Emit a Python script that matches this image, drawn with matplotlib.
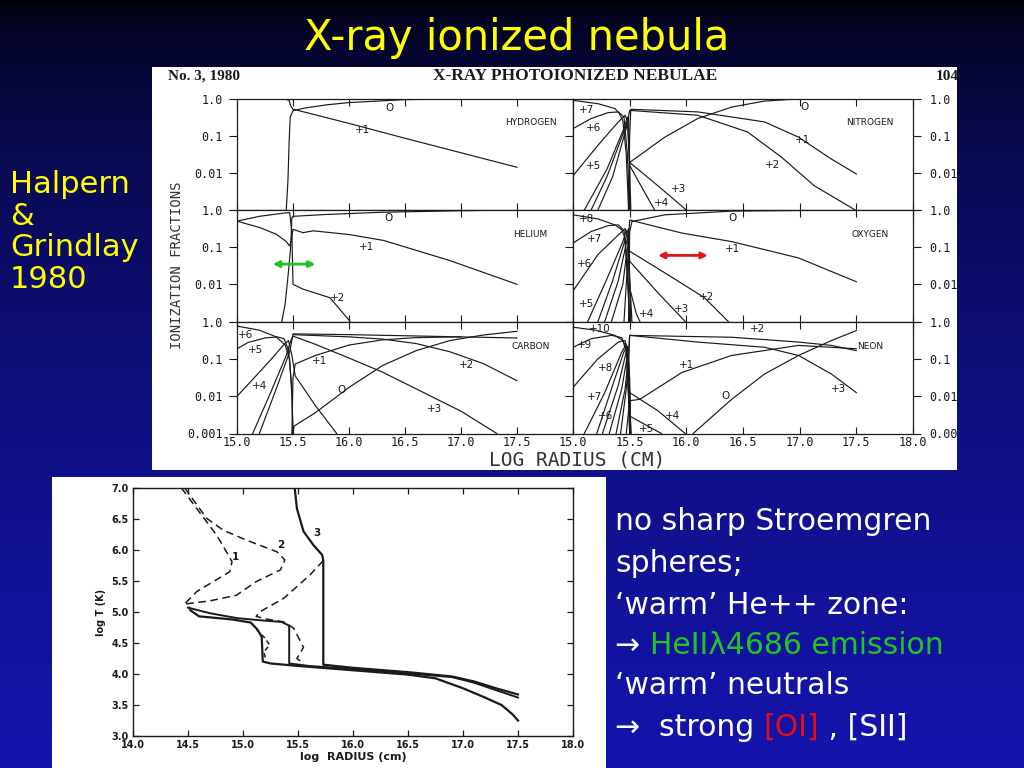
import numpy as np
import matplotlib.pyplot as plt
from matplotlib.patches import Rectangle

# ---- data: ionization fractions (log10) vs log radius ----
HYDROGEN = {
    '0':  ([15.44, 15.455, 15.465, 15.475, 15.5, 15.6, 15.8, 16.0, 16.5, 17.0, 17.5],
           [-3.0, -2.2, -1.2, -0.5, -0.33, -0.26, -0.17, -0.11, -0.03, -0.01, 0.0]),
    '+1': ([15.0, 15.42, 15.465, 15.48, 15.5, 15.53, 16.0, 16.5, 17.0, 17.5],
           [0.0, -0.01, -0.05, -0.2, -0.29, -0.31, -0.67, -1.07, -1.46, -1.85]),
}
HELIUM = {
    '0':  ([15.40, 15.43, 15.46, 15.48, 15.49, 15.5, 15.8, 16.3, 17.0, 17.5],
           [-3.0, -2.53, -1.64, -0.97, -0.2, -0.17, -0.12, -0.06, -0.02, 0.0]),
    '+1': ([15.0, 15.2, 15.35, 15.44, 15.47, 15.485, 15.5, 15.59, 15.68, 16.0, 16.31, 16.9, 17.5],
           [-0.3, -0.47, -0.65, -0.85, -0.97, -0.8, -0.52, -0.61, -0.56, -0.66, -0.82, -1.36, -2.0]),
    '+2': ([15.0, 15.2, 15.4, 15.47, 15.49, 15.5, 15.59, 15.83, 16.01],
           [-0.3, -0.17, -0.09, -0.07, -0.6, -2.0, -2.13, -2.36, -3.0]),
}
CARBON = {
    '+6': ([15.0, 15.2, 15.35, 15.43, 15.47, 15.49, 15.5],
           [-0.11, -0.22, -0.4, -0.62, -1.0, -2.0, -3.0]),
    '+5': ([15.0, 15.1, 15.25, 15.36, 15.42, 15.46, 15.49, 15.5],
           [-0.72, -0.55, -0.43, -0.4, -0.45, -0.75, -1.8, -3.0]),
    '+4': ([15.0, 15.2, 15.35, 15.42, 15.46, 15.49, 15.52, 15.7, 15.89],
           [-2.0, -1.35, -0.85, -0.6, -0.5, -0.9, -1.45, -2.25, -3.0]),
    '+3': ([15.14, 15.3, 15.44, 15.48, 15.5, 15.7, 16.0, 16.3, 16.6, 17.0, 17.32],
           [-3.0, -1.9, -0.9, -0.5, -0.38, -0.6, -0.97, -1.35, -1.8, -2.4, -3.0]),
    '+2': ([15.2, 15.35, 15.47, 15.5, 16.0, 16.3, 16.6, 16.9, 17.2, 17.5],
           [-3.0, -1.8, -0.8, -0.34, -0.4, -0.46, -0.58, -0.8, -1.12, -1.58]),
    '+2b': ([15.5, 16.0, 16.5, 17.0, 17.5],
            [-0.32, -0.34, -0.37, -0.40, -0.43]),
    '+1': ([15.49, 15.5, 15.52, 15.7, 16.0, 16.3, 16.6, 17.0],
           [-3.0, -1.5, -1.13, -0.9, -0.62, -0.48, -0.42, -0.40]),
    '0':  ([15.5, 15.51, 15.7, 16.0, 16.3, 16.6, 16.9, 17.2, 17.5],
           [-3.0, -2.8, -2.44, -1.76, -1.17, -0.77, -0.5, -0.35, -0.25]),
}
NITROGEN = {
    '+7': ([15.0, 15.22, 15.37, 15.41, 15.44, 15.47, 15.49],
           [-0.05, -0.14, -0.27, -0.41, -0.6, -1.5, -3.0]),
    '+6': ([15.0, 15.16, 15.31, 15.40, 15.45, 15.48, 15.5],
           [-0.81, -0.54, -0.38, -0.36, -0.5, -1.5, -3.0]),
    '+5': ([15.0, 15.22, 15.40, 15.46, 15.48, 15.5, 15.51],
           [-2.08, -1.26, -0.63, -0.45, -0.6, -1.8, -3.0]),
    '+4': ([15.10, 15.3, 15.45, 15.48, 15.5, 15.6, 15.72],
           [-3.0, -1.9, -0.8, -0.5, -1.8, -2.35, -3.0]),
    '+3': ([15.16, 15.3, 15.46, 15.49, 15.5, 15.75, 16.0],
           [-3.0, -2.1, -0.8, -0.5, -1.72, -2.35, -3.0]),
    '+2': ([15.22, 15.35, 15.47, 15.5, 16.1, 16.54, 16.84, 17.13, 17.49],
           [-3.0, -2.1, -0.8, -0.32, -0.45, -0.9, -1.58, -2.35, -3.0]),
    '+1': ([15.49, 15.5, 15.51, 16.1, 16.69, 16.99, 17.28, 17.5],
           [-3.0, -1.0, -0.29, -0.36, -0.63, -1.04, -1.63, -2.03]),
    '0':  ([15.495, 15.5, 15.81, 16.1, 16.4, 16.69, 16.99, 17.5],
           [-3.0, -1.72, -1.04, -0.54, -0.23, -0.07, -0.01, 0.0]),
}
OXYGEN = {
    '+8': ([15.0, 15.22, 15.37, 15.43, 15.46, 15.48, 15.5],
           [-0.13, -0.24, -0.4, -0.53, -0.76, -1.8, -3.0]),
    '+7': ([15.0, 15.16, 15.31, 15.40, 15.45, 15.48, 15.5],
           [-0.89, -0.58, -0.42, -0.40, -0.55, -1.6, -3.0]),
    '+6': ([15.0, 15.22, 15.40, 15.46, 15.48, 15.5, 15.51],
           [-2.18, -1.2, -0.67, -0.5, -0.7, -2.0, -3.0]),
    '+5': ([15.13, 15.3, 15.44, 15.47, 15.49, 15.5, 15.52],
           [-3.0, -1.85, -0.85, -0.55, -0.6, -1.8, -3.0]),
    '+4': ([15.22, 15.35, 15.46, 15.49, 15.5, 15.56, 15.59],
           [-3.0, -1.9, -0.8, -0.5, -2.1, -2.8, -3.0]),
    '+3': ([15.28, 15.4, 15.47, 15.49, 15.5, 15.75, 15.99],
           [-3.0, -1.9, -0.9, -0.6, -1.38, -2.23, -3.0]),
    '+2': ([15.34, 15.44, 15.48, 15.5, 15.81, 16.16, 16.37],
           [-3.0, -2.0, -1.0, -1.11, -1.69, -2.36, -3.0]),
    '+1': ([15.45, 15.48, 15.5, 15.96, 16.4, 16.99, 17.5],
           [-3.0, -1.5, -0.27, -0.62, -0.85, -1.29, -1.93]),
    '0':  ([15.49, 15.5, 15.52, 15.81, 16.4, 17.5],
           [-3.0, -0.6, -0.31, -0.13, -0.03, 0.0]),
}
NEON = {
    '+10': ([15.0, 15.2, 15.37, 15.44, 15.47, 15.49, 15.5],
            [-0.14, -0.22, -0.36, -0.5, -0.8, -2.0, -3.0]),
    '+9': ([15.0, 15.16, 15.34, 15.43, 15.47, 15.49, 15.5],
           [-0.68, -0.45, -0.36, -0.42, -0.7, -2.0, -3.0]),
    '+8': ([15.0, 15.22, 15.40, 15.46, 15.48, 15.5, 15.51],
           [-1.76, -0.99, -0.54, -0.5, -0.8, -2.0, -3.0]),
    '+7': ([15.10, 15.28, 15.43, 15.47, 15.49, 15.5, 15.51],
           [-3.0, -1.9, -0.81, -0.6, -0.9, -2.0, -3.0]),
    '+6': ([15.21, 15.35, 15.45, 15.48, 15.5, 15.51],
           [-3.0, -1.7, -0.8, -0.65, -1.5, -3.0]),
    '+5': ([15.26, 15.4, 15.47, 15.49, 15.5, 15.69, 15.78],
           [-3.0, -1.7, -0.8, -0.7, -2.53, -2.85, -3.0]),
    '+4': ([15.32, 15.43, 15.48, 15.5, 15.75, 15.99],
           [-3.0, -1.8, -0.9, -1.9, -2.39, -3.0]),
    '+3': ([15.38, 15.46, 15.49, 15.5, 16.1, 16.69, 16.99, 17.28, 17.5],
           [-3.0, -1.8, -0.9, -0.36, -0.54, -0.68, -0.9, -1.4, -1.9]),
    '+2': ([15.42, 15.47, 15.49, 15.5, 16.4, 16.99, 17.28, 17.5],
           [-3.0, -1.8, -1.0, -0.36, -0.41, -0.54, -0.63, -0.77]),
    '+1': ([15.47, 15.49, 15.5, 15.59, 15.96, 16.4, 16.99, 17.5],
           [-3.0, -2.4, -2.12, -2.08, -1.36, -0.9, -0.63, -0.72]),
    '0':  ([16.06, 16.4, 16.69, 16.99, 17.28, 17.5],
           [-3.0, -2.08, -1.4, -0.9, -0.5, -0.23]),
}

# curve labels: text, log R, log fraction
HYDROGEN_LABELS = [('O', 16.36, -0.26), ('+1', 16.12, -0.85)]
HELIUM_LABELS = [('O', 16.35, -0.22), ('+1', 16.16, -0.99), ('+2', 15.9, -2.37)]
CARBON_LABELS = [('+6', 15.08, -0.36), ('+5', 15.17, -0.75), ('+4', 15.2, -1.73),
                 ('+1', 15.74, -1.04), ('O', 15.93, -1.82), ('+2', 17.05, -1.17),
                 ('+3', 16.76, -2.35)]
NITROGEN_LABELS = [('+7', 15.12, -0.32), ('+6', 15.18, -0.79), ('+5', 15.18, -1.81),
                   ('O', 17.04, -0.23), ('+1', 17.03, -1.13), ('+2', 16.76, -1.79),
                   ('+3', 15.93, -2.44), ('+4', 15.78, -2.8)]
OXYGEN_LABELS = [('+8', 15.12, -0.24), ('+7', 15.19, -0.78), ('+6', 15.1, -1.45),
                 ('+5', 15.12, -2.54), ('+4', 15.65, -2.8), ('+3', 15.96, -2.67),
                 ('+2', 16.18, -2.34), ('+1', 16.41, -1.05), ('O', 16.41, -0.22)]
NEON_LABELS = [('+10', 15.24, -0.18), ('+9', 15.1, -0.63), ('+8', 15.29, -1.25),
               ('+7', 15.19, -2.03), ('+6', 15.29, -2.53), ('+5', 15.65, -2.89),
               ('+4', 15.88, -2.53), ('+1', 16.0, -1.17), ('O', 16.35, -1.99),
               ('+2', 16.63, -0.18), ('+3', 17.34, -1.81)]

# temperature profiles: log R, log T
T1_DASH = ([14.44, 14.6, 14.76, 14.85, 14.9, 14.88, 14.73, 14.58, 14.48, 14.52],
           [7.0, 6.62, 6.24, 5.97, 5.81, 5.65, 5.49, 5.33, 5.15, 5.05])
T2_DASH = ([14.47, 14.67, 14.82, 15.03, 15.31, 15.38, 15.34, 15.12, 14.94, 14.70, 14.48],
           [7.0, 6.51, 6.32, 6.16, 5.97, 5.84, 5.68, 5.49, 5.27, 5.18, 5.13])
T3_DASH = ([15.73, 15.61, 15.37, 15.15, 15.12, 15.2, 15.37, 15.46, 15.55, 15.49, 15.55],
           [5.83, 5.6, 5.22, 5.0, 4.93, 4.89, 4.84, 4.74, 4.43, 4.25, 4.17])
T1_ZIG = ([15.12, 15.2, 15.24, 15.19, 15.21],
          [4.72, 4.58, 4.47, 4.35, 4.22])
T1_SOLID = ([14.52, 14.6, 14.9, 15.07, 15.13, 15.17, 15.18, 15.25, 15.5, 16.0, 16.5, 16.75,
             17.0, 17.2, 17.35, 17.45, 17.5],
            [5.03, 4.93, 4.88, 4.83, 4.72, 4.6, 4.2, 4.17, 4.13, 4.06, 3.99, 3.93,
             3.77, 3.62, 3.5, 3.35, 3.25])
T2_SOLID = ([14.5, 14.7, 14.95, 15.2, 15.35, 15.42, 15.42, 15.6, 16.0, 16.5, 16.9, 17.1, 17.3, 17.5],
            [5.07, 4.98, 4.9, 4.86, 4.84, 4.78, 4.17, 4.13, 4.08, 4.01, 3.95, 3.86, 3.74, 3.62])
T3_SOLID = ([15.47, 15.49, 15.55, 15.64, 15.72, 15.73, 15.73, 16.0, 16.5, 16.9, 17.1, 17.3, 17.5],
            [7.0, 6.67, 6.3, 6.08, 5.92, 5.83, 4.15, 4.1, 4.03, 3.96, 3.88, 3.77, 3.67])
T_LABELS = [('1', 14.93, 5.89), ('2', 15.34, 6.08), ('3', 15.67, 6.27)]

W, H = 1024, 768


def fx(px):
    return px / W


def fy(py):
    return 1 - py / H


fig = plt.figure(figsize=(10.24, 7.68), dpi=100)

# slide background: black at the top fading into blue
bg = fig.add_axes([0, 0, 1, 1], zorder=-10)
t = np.linspace(0, 1, 256)[:, None] ** 0.5
top = np.array([0.0, 0.0, 0.02])
bot = np.array([0.08, 0.08, 0.68])
img = (top + (bot - top) * t[..., None]) * np.ones((256, 2, 3))
bg.imshow(img, aspect='auto', extent=[0, 1, 0, 1], origin='upper')
bg.set_xlim(0, 1)
bg.set_ylim(0, 1)
bg.axis('off')

# white "scan" panels
panel_top = Rectangle((fx(152), fy(470)), fx(957) - fx(152), fy(67) - fy(470),
                      transform=fig.transFigure, facecolor='white', edgecolor='none', zorder=-5)
panel_bot = Rectangle((fx(52), fy(768)), fx(606) - fx(52), fy(477) - fy(768),
                      transform=fig.transFigure, facecolor='white', edgecolor='none', zorder=-5)
fig.patches.extend([panel_top, panel_bot])

mono = 'DejaVu Sans Mono'
ink = '#1a1a1a'

fig.text(0.505, fy(38), 'X-ray ionized nebula', ha='center', va='center',
         color='#ffff00', fontsize=30)
fig.text(fx(10), fy(232), 'Halpern\n&\nGrindlay\n1980', ha='left', va='center',
         color='#ffff00', fontsize=22, linespacing=1.12)

fig.text(fx(168), fy(76), 'No. 3, 1980', family='Liberation Serif', weight='bold',
         fontsize=11, color=ink, va='center')
fig.text(fx(575), fy(76), 'X-RAY PHOTOIONIZED NEBULAE', family='Liberation Serif',
         weight='bold', fontsize=12.5, color=ink, va='center', ha='center')
hdr = fig.text(fx(936), fy(76), '104', family='Liberation Serif', weight='bold',
               fontsize=11, color=ink, va='center')
hdr.set_clip_path(panel_top)

panels = [
    (HYDROGEN, HYDROGEN_LABELS, 'HYDROGEN', 0, 0),
    (NITROGEN, NITROGEN_LABELS, 'NITROGEN', 0, 1),
    (HELIUM, HELIUM_LABELS, 'HELIUM', 1, 0),
    (OXYGEN, OXYGEN_LABELS, 'OXYGEN', 1, 1),
    (CARBON, CARBON_LABELS, 'CARBON', 2, 0),
    (NEON, NEON_LABELS, 'NEON', 2, 1),
]
col_px = [(237, 336), (573, 340)]
row_top = [98.5, 210, 322]
row_h = 111.5

for curves, labels, name, r, c in panels:
    left, width = col_px[c]
    ax = fig.add_axes([fx(left), fy(row_top[r] + row_h), width / W, row_h / H])
    ax.set_facecolor('white')
    for key, (xs, ys) in curves.items():
        ax.plot(xs, np.power(10.0, ys), color=ink, lw=0.85)
    for txt, lx, ly in labels:
        ax.text(lx, 10 ** ly, txt, fontsize=7.5, family='DejaVu Sans', color=ink,
                ha='center', va='center')
    ax.text(17.62, 10 ** -0.65, name, fontsize=6.5, family='DejaVu Sans', color=ink,
            ha='center', va='center')
    ax.set_yscale('log')
    ax.set_xlim(15, 18)
    ax.set_ylim(1e-3, 1)
    ax.minorticks_off()
    ax.set_yticks([1e-3, 1e-2, 1e-1, 1])
    bottom_lab = '0.001' if r == 2 else ''
    ax.set_yticklabels([bottom_lab, '0.01', '0.1', '1.0'], family=mono, fontsize=8.5, color=ink)
    ax.set_xticks([15, 15.5, 16, 16.5, 17, 17.5, 18])
    if r == 2:
        if c == 0:
            xl = ['15.0', '15.5', '16.0', '16.5', '17.0', '17.5', '']
        else:
            xl = ['15.0', '15.5', '16.0', '16.5', '17.0', '17.5', '18.0']
        ax.set_xticklabels(xl, family=mono, fontsize=8.5, color=ink)
    else:
        ax.set_xticklabels([])
    ax.tick_params(axis='x', direction='in', top=True, bottom=True, length=5, width=0.8,
                   pad=2, color=ink)
    if c == 0:
        ax.tick_params(axis='y', direction='out', left=True, right=False, length=6,
                       width=0.8, pad=4, color=ink)
    else:
        ax.tick_params(axis='y', direction='out', left=True, right=True, labelleft=False,
                       labelright=True, length=6, width=0.8, pad=6, color=ink)
        for lab in ax.get_yticklabels():
            lab.set_clip_path(panel_top)
    for s in ax.spines.values():
        s.set_linewidth(0.9)
        s.set_color(ink)
    if name == 'HELIUM':
        ax.annotate('', xy=(15.70, 0.035), xytext=(15.32, 0.035),
                    arrowprops=dict(arrowstyle='<|-|>', color='#1fbf2a', lw=2,
                                    mutation_scale=9, shrinkA=0, shrinkB=0))
    if name == 'OXYGEN':
        ax.annotate('', xy=(16.19, 0.06), xytext=(15.75, 0.06),
                    arrowprops=dict(arrowstyle='<|-|>', color='#e01515', lw=2,
                                    mutation_scale=9, shrinkA=0, shrinkB=0))

fig.text(fx(177), fy(265), 'IONIZATION FRACTIONS', rotation=90, family=mono,
         fontsize=10, color='#333333', ha='center', va='center')
fig.text(fx(577), fy(460), 'LOG RADIUS (CM)', family=mono, fontsize=14,
         color='#333333', ha='center', va='center')

# temperature panel
axT = fig.add_axes([fx(133), fy(736), (573 - 133) / W, (736 - 488) / H])
axT.set_facecolor('white')
axT.plot(*T1_DASH, color=ink, lw=1.1, ls=(0, (5, 3)))
axT.plot(*T2_DASH, color=ink, lw=1.1, ls=(0, (5, 3)))
axT.plot(*T3_DASH, color=ink, lw=1.1, ls=(0, (5, 3)))
axT.plot(*T1_ZIG, color=ink, lw=1.1, ls=(0, (3, 2)))
axT.plot(*T1_SOLID, color=ink, lw=1.6)
axT.plot(*T2_SOLID, color=ink, lw=1.4)
axT.plot(*T3_SOLID, color=ink, lw=1.6)
for txt, lx, ly in T_LABELS:
    axT.text(lx, ly, txt, fontsize=7.5, weight='bold', color=ink, ha='center', va='center')
axT.set_xlim(14, 18)
axT.set_ylim(3, 7)
axT.set_xticks(np.arange(14, 18.01, 0.5))
axT.set_yticks(np.arange(3, 7.01, 0.5))
axT.set_xticklabels(['%.1f' % v for v in np.arange(14, 18.01, 0.5)], fontsize=7,
                    weight='bold', color=ink)
axT.set_yticklabels(['%.1f' % v for v in np.arange(3, 7.01, 0.5)], fontsize=7,
                    weight='bold', color=ink)
axT.tick_params(direction='in', top=True, right=True, length=4, width=0.9, pad=3, color=ink)
axT.set_xlabel('log  RADIUS (cm)', fontsize=8, weight='bold', color=ink, labelpad=1)
axT.set_ylabel('log T (K)', fontsize=7, weight='bold', color=ink, labelpad=4)
for s in axT.spines.values():
    s.set_linewidth(1.0)
    s.set_color(ink)

# right-hand notes, with coloured words
renderer = fig.canvas.get_renderer()
green = '#22c422'
red = '#e01010'
note_lines = [
    [('no sharp Stroemgren', 'white')],
    [('spheres;', 'white')],
    [('\u2018warm\u2019 He++ zone:', 'white')],
    [('\u2192 ', 'white'), ('HeII\u03bb4686 emission', green)],
    [('\u2018warm\u2019 neutrals', 'white')],
    [('\u2192  strong ', 'white'), ('[OI]', red), (' , [SII]', 'white')],
]
note_y = [522, 563, 605, 645, 686, 727]
for parts, py in zip(note_lines, note_y):
    x = fx(615)
    for s, col in parts:
        tx = fig.text(x, fy(py), s, color=col, fontsize=21.5, ha='left', va='center')
        bb = tx.get_window_extent(renderer=renderer)
        x += bb.width / W

fig.savefig('out.png', dpi=100)
